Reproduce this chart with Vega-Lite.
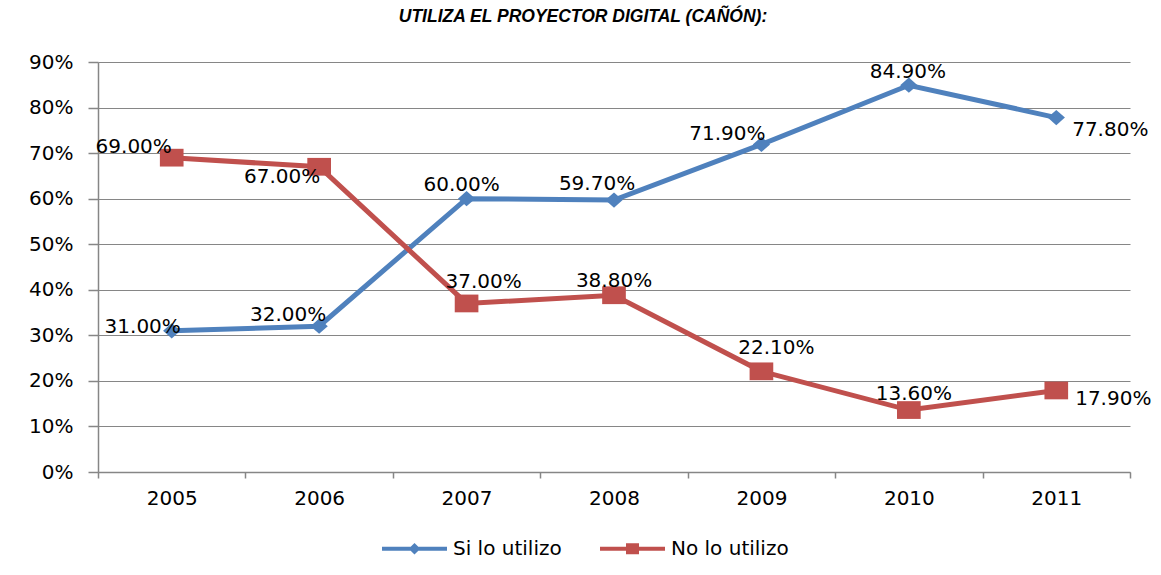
{
  "$schema": "https://vega.github.io/schema/vega-lite/v6.json",
  "width": 1032,
  "height": 410,
  "autosize": "none",
  "padding": {"left": 98, "top": 62, "right": 31, "bottom": 103},
  "background": "white",
  "title": {
    "text": "UTILIZA EL PROYECTOR DIGITAL (CAÑÓN):",
    "font": "Liberation Sans",
    "fontSize": 17.5,
    "fontWeight": "bold",
    "fontStyle": "italic",
    "color": "black",
    "anchor": "middle",
    "dx": -31,
    "offset": 27
  },
  "data": {
    "values": [
      {"year": "2005", "serie": "Si lo utilizo", "value": 0.31},
      {"year": "2006", "serie": "Si lo utilizo", "value": 0.32},
      {"year": "2007", "serie": "Si lo utilizo", "value": 0.60},
      {"year": "2008", "serie": "Si lo utilizo", "value": 0.597},
      {"year": "2009", "serie": "Si lo utilizo", "value": 0.719},
      {"year": "2010", "serie": "Si lo utilizo", "value": 0.849},
      {"year": "2011", "serie": "Si lo utilizo", "value": 0.778},
      {"year": "2005", "serie": "No lo utilizo", "value": 0.69},
      {"year": "2006", "serie": "No lo utilizo", "value": 0.67},
      {"year": "2007", "serie": "No lo utilizo", "value": 0.37},
      {"year": "2008", "serie": "No lo utilizo", "value": 0.388},
      {"year": "2009", "serie": "No lo utilizo", "value": 0.221},
      {"year": "2010", "serie": "No lo utilizo", "value": 0.136},
      {"year": "2011", "serie": "No lo utilizo", "value": 0.179}
    ]
  },
  "encoding": {
    "x": {
      "field": "year",
      "type": "nominal",
      "sort": null,
      "scale": {"type": "band", "paddingInner": 0, "paddingOuter": 0},
      "axis": {
        "title": null,
        "labelAngle": 0,
        "tickBand": "extent",
        "grid": false,
        "tickSize": 6,
        "tickColor": "#868686",
        "domainColor": "#868686",
        "tickWidth": 1.5,
        "domainWidth": 1.5,
        "labelPadding": 10,
        "labelFont": "DejaVu Sans",
        "labelFontSize": 20,
        "labelColor": "black"
      }
    },
    "y": {
      "field": "value",
      "type": "quantitative",
      "scale": {"domain": [0, 0.9], "nice": false},
      "axis": {
        "title": null,
        "values": [0, 0.1, 0.2, 0.3, 0.4, 0.5, 0.6, 0.7, 0.8, 0.9],
        "format": ".0%",
        "grid": true,
        "gridColor": "#868686",
        "gridWidth": 1.2,
        "tickSize": 10,
        "tickColor": "#868686",
        "tickWidth": 1.5,
        "domainColor": "#868686",
        "domainWidth": 1.5,
        "labelPadding": 15,
        "labelFont": "DejaVu Sans",
        "labelFontSize": 20,
        "labelColor": "black"
      }
    }
  },
  "layer": [
    {
      "mark": {"type": "line", "strokeWidth": 5},
      "encoding": {
        "color": {
          "field": "serie",
          "type": "nominal",
          "scale": {"domain": ["Si lo utilizo", "No lo utilizo"], "range": ["#4F81BD", "#C0504D"]},
          "legend": {
            "orient": "none",
            "legendX": 284,
            "legendY": 454,
            "direction": "horizontal",
            "title": null,
            "symbolSize": 4225,
            "symbolType": "M-1,-0.065H1V0.065H-1Z M0,-0.18L0.18,0L0,0.18L-0.18,0Z",
            "labelFont": "DejaVu Sans",
            "labelFontSize": 20,
            "labelColor": "black",
            "labelOffset": 6,
            "columnPadding": 38,
            "encode": {
              "symbols": {
                "update": {
                  "shape": {"signal": "datum.value == 'Si lo utilizo' ? 'M-1,-0.065H1V0.065H-1Z M0,-0.18L0.18,0L0,0.18L-0.18,0Z' : 'M-1,-0.065H1V0.065H-1Z M-0.2,-0.17H0.2V0.17H-0.2Z'"},
                  "fill": {"scale": "color", "field": "value"},
                  "strokeWidth": {"value": 0},
                  "opacity": {"value": 1}
                }
              }
            }
          }
        }
      }
    },
    {
      "transform": [{"filter": "datum.serie == 'Si lo utilizo'"}],
      "mark": {"type": "point", "filled": true, "opacity": 1, "size": 300, "shape": "M-1,0L0,-0.88L1,0L0,0.88Z", "color": "#4F81BD"}
    },
    {
      "transform": [{"filter": "datum.serie == 'No lo utilizo'"}],
      "mark": {"type": "point", "filled": true, "opacity": 1, "size": 560, "shape": "M-1,-0.75H1V0.75H-1Z", "color": "#C0504D"}
    },
    {"transform": [{"filter": "datum.serie == 'Si lo utilizo' && datum.year == '2005'"}], "mark": {"type": "text", "dx": -29, "dy": -4, "font": "DejaVu Sans", "fontSize": 20, "color": "black"}, "encoding": {"text": {"field": "value", "type": "quantitative", "format": ".2%"}}},
    {"transform": [{"filter": "datum.serie == 'Si lo utilizo' && datum.year == '2006'"}], "mark": {"type": "text", "dx": -31, "dy": -11, "font": "DejaVu Sans", "fontSize": 20, "color": "black"}, "encoding": {"text": {"field": "value", "type": "quantitative", "format": ".2%"}}},
    {"transform": [{"filter": "datum.serie == 'Si lo utilizo' && datum.year == '2007'"}], "mark": {"type": "text", "dx": -5, "dy": -14, "font": "DejaVu Sans", "fontSize": 20, "color": "black"}, "encoding": {"text": {"field": "value", "type": "quantitative", "format": ".2%"}}},
    {"transform": [{"filter": "datum.serie == 'Si lo utilizo' && datum.year == '2008'"}], "mark": {"type": "text", "dx": -17, "dy": -16, "font": "DejaVu Sans", "fontSize": 20, "color": "black"}, "encoding": {"text": {"field": "value", "type": "quantitative", "format": ".2%"}}},
    {"transform": [{"filter": "datum.serie == 'Si lo utilizo' && datum.year == '2009'"}], "mark": {"type": "text", "dx": -34, "dy": -10, "font": "DejaVu Sans", "fontSize": 20, "color": "black"}, "encoding": {"text": {"field": "value", "type": "quantitative", "format": ".2%"}}},
    {"transform": [{"filter": "datum.serie == 'Si lo utilizo' && datum.year == '2010'"}], "mark": {"type": "text", "dx": -1, "dy": -13, "font": "DejaVu Sans", "fontSize": 20, "color": "black"}, "encoding": {"text": {"field": "value", "type": "quantitative", "format": ".2%"}}},
    {"transform": [{"filter": "datum.serie == 'Si lo utilizo' && datum.year == '2011'"}], "mark": {"type": "text", "dx": 54, "dy": 12, "font": "DejaVu Sans", "fontSize": 20, "color": "black"}, "encoding": {"text": {"field": "value", "type": "quantitative", "format": ".2%"}}},
    {"transform": [{"filter": "datum.serie == 'No lo utilizo' && datum.year == '2005'"}], "mark": {"type": "text", "dx": -38, "dy": -11, "font": "DejaVu Sans", "fontSize": 20, "color": "black"}, "encoding": {"text": {"field": "value", "type": "quantitative", "format": ".2%"}}},
    {"transform": [{"filter": "datum.serie == 'No lo utilizo' && datum.year == '2006'"}], "mark": {"type": "text", "dx": -37, "dy": 10, "font": "DejaVu Sans", "fontSize": 20, "color": "black"}, "encoding": {"text": {"field": "value", "type": "quantitative", "format": ".2%"}}},
    {"transform": [{"filter": "datum.serie == 'No lo utilizo' && datum.year == '2007'"}], "mark": {"type": "text", "dx": 17, "dy": -21, "font": "DejaVu Sans", "fontSize": 20, "color": "black"}, "encoding": {"text": {"field": "value", "type": "quantitative", "format": ".2%"}}},
    {"transform": [{"filter": "datum.serie == 'No lo utilizo' && datum.year == '2008'"}], "mark": {"type": "text", "dx": 0, "dy": -14, "font": "DejaVu Sans", "fontSize": 20, "color": "black"}, "encoding": {"text": {"field": "value", "type": "quantitative", "format": ".2%"}}},
    {"transform": [{"filter": "datum.serie == 'No lo utilizo' && datum.year == '2009'"}], "mark": {"type": "text", "dx": 15, "dy": -23, "font": "DejaVu Sans", "fontSize": 20, "color": "black"}, "encoding": {"text": {"field": "value", "type": "quantitative", "format": ".2%"}}},
    {"transform": [{"filter": "datum.serie == 'No lo utilizo' && datum.year == '2010'"}], "mark": {"type": "text", "dx": 5, "dy": -16, "font": "DejaVu Sans", "fontSize": 20, "color": "black"}, "encoding": {"text": {"field": "value", "type": "quantitative", "format": ".2%"}}},
    {"transform": [{"filter": "datum.serie == 'No lo utilizo' && datum.year == '2011'"}], "mark": {"type": "text", "dx": 57, "dy": 9, "font": "DejaVu Sans", "fontSize": 20, "color": "black"}, "encoding": {"text": {"field": "value", "type": "quantitative", "format": ".2%"}}}
  ],
  "config": {"view": {"stroke": null}}
}
